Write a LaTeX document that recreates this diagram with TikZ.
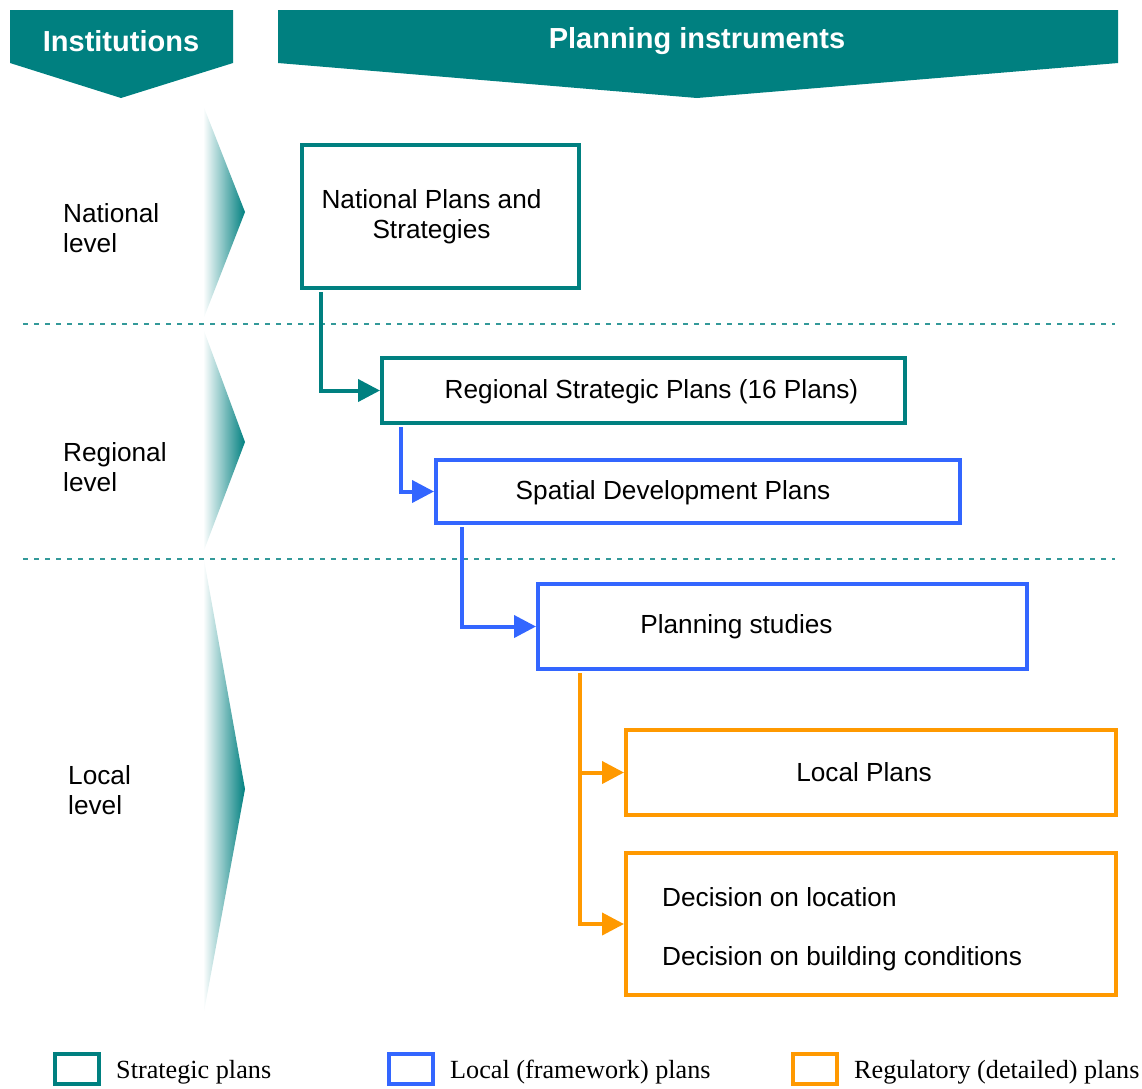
\documentclass[tikz,border=0pt]{standalone}
\usepackage{fontspec}
\setmainfont{Liberation Sans}
\newfontfamily\legendfont{Liberation Serif}
\usetikzlibrary{arrows.meta,positioning,calc}
\definecolor{planteal}{HTML}{008080}
\definecolor{planblue}{HTML}{3366FF}
\definecolor{planorange}{HTML}{FF9900}

\begin{document}
\begin{tikzpicture}[
  x=1pt, y=-1pt,
  font=\fontsize{26.2}{30.5}\selectfont,
  banner/.style={fill=planteal, draw=none},
  bannertext/.style={font=\bfseries\fontsize{29}{34}\selectfont, text=white},
  levelname/.style={align=left, anchor=west, inner sep=0pt},
  chevron/.style={left color=white, middle color=planteal!22, right color=planteal, draw=none},
  divider/.style={draw=planteal!80, line width=1.8pt, dash pattern=on 5pt off 6pt},
  plan/.style={draw=#1, fill=white, line width=4pt, inner sep=0pt},
  plantext/.style={align=center, inner sep=0pt},
  flow/.style={draw=#1, line width=4pt, shorten <=2pt,
    -{Triangle[length=22pt,width=22pt]}},
  legbox/.style={draw=#1, line width=4pt, minimum width=44pt,
    minimum height=30pt, inner sep=0pt},
  legtext/.style={font=\legendfont\fontsize{26.2}{30}\selectfont, inner sep=0pt}
]
  \useasboundingbox (0,0) rectangle (1142,1088);

  % column heads
  \path[banner] (10,10) -- (233,10) -- (233,63) -- (121,98) -- (10,63) -- cycle;
  \node[bannertext] (inst) at (121,41) {Institutions};
  \path[banner] (278,10) -- (1118,10) -- (1118,63) -- (697,98) -- (278,63) -- cycle;
  \node[bannertext] (instr) at (697,41) {Planning instruments};

  % level markers
  \foreach \ya/\yb/\yc in {105/212/320, 328/442/553, 554/789/1017}
    {\path[chevron] (203,\ya) -- (245,\yb) -- (203,\yc) -- cycle;}
  \node[levelname] (natlvl) at (63,228) {National\\level};
  \node[levelname] (reglvl) at (63,467) {Regional\\level};
  \node[levelname] (loclvl) at (68,790) {Local\\level};
  \draw[divider] (23,324) -- (1115,324);
  \draw[divider] (23,559) -- (1115,559);

  % plans
  \node[plan=planteal, minimum width=277pt, minimum height=143pt] (nat) at (440.5,216.5) {};
  \node[plantext] (natt) at ([xshift=-9pt]nat.center) {National Plans and\\Strategies};
  \node[plan=planteal, minimum width=523pt, minimum height=65pt] (rsp) at (643.5,390.5) {};
  \node[plantext] (rspt) at ([xshift=8pt,yshift=-1pt]rsp.center) {Regional Strategic Plans (16 Plans)};
  \node[plan=planblue, minimum width=524pt, minimum height=63pt] (sdp) at (698,491.5) {};
  \node[plantext] (sdpt) at ([xshift=-25pt,yshift=-1pt]sdp.center) {Spatial Development Plans};
  \node[plan=planblue, minimum width=489pt, minimum height=85pt] (pst) at (782.5,626.5) {};
  \node[plantext] (pstt) at ([xshift=-46pt]pst.center) {Planning studies};
  \node[plan=planorange, minimum width=490pt, minimum height=85pt] (lp) at (871,772.5) {};
  \node[plantext] (lpt) at ([xshift=-7pt]lp.center) {Local Plans};
  \node[plan=planorange, minimum width=490pt, minimum height=142pt] (dec) at (871,924) {};
  \node[plantext, anchor=west] (dec1) at (662,897) {Decision on location};
  \node[plantext, anchor=west] (dec2) at (662,959) {Decision on building conditions};

  % links
  \draw[flow=planteal] ([xshift=21pt]nat.south west) |- (rsp.west);
  \draw[flow=planblue] ([xshift=21pt]rsp.south west) |- (sdp.west);
  \draw[flow=planblue] ([xshift=28pt]sdp.south west) |- (pst.west);
  \draw[flow=planorange] ([xshift=44pt]pst.south west) |- (lp.west);
  \draw[flow=planorange] ([xshift=44pt]pst.south west) |- (dec.west);

  % legend
  \node[legbox=planteal] (legs) at (77,1069) {};
  \node[legtext, right=15pt of legs, yshift=-3pt] (legst) {Strategic plans};
  \node[legbox=planblue] (legl) at (411,1069) {};
  \node[legtext, right=15pt of legl, yshift=-3pt] (leglt) {Local (framework) plans};
  \node[legbox=planorange] (legr) at (815,1069) {};
  \node[legtext, right=15pt of legr, yshift=-3pt] (legrt) {Regulatory (detailed) plans};
\end{tikzpicture}
\end{document}
